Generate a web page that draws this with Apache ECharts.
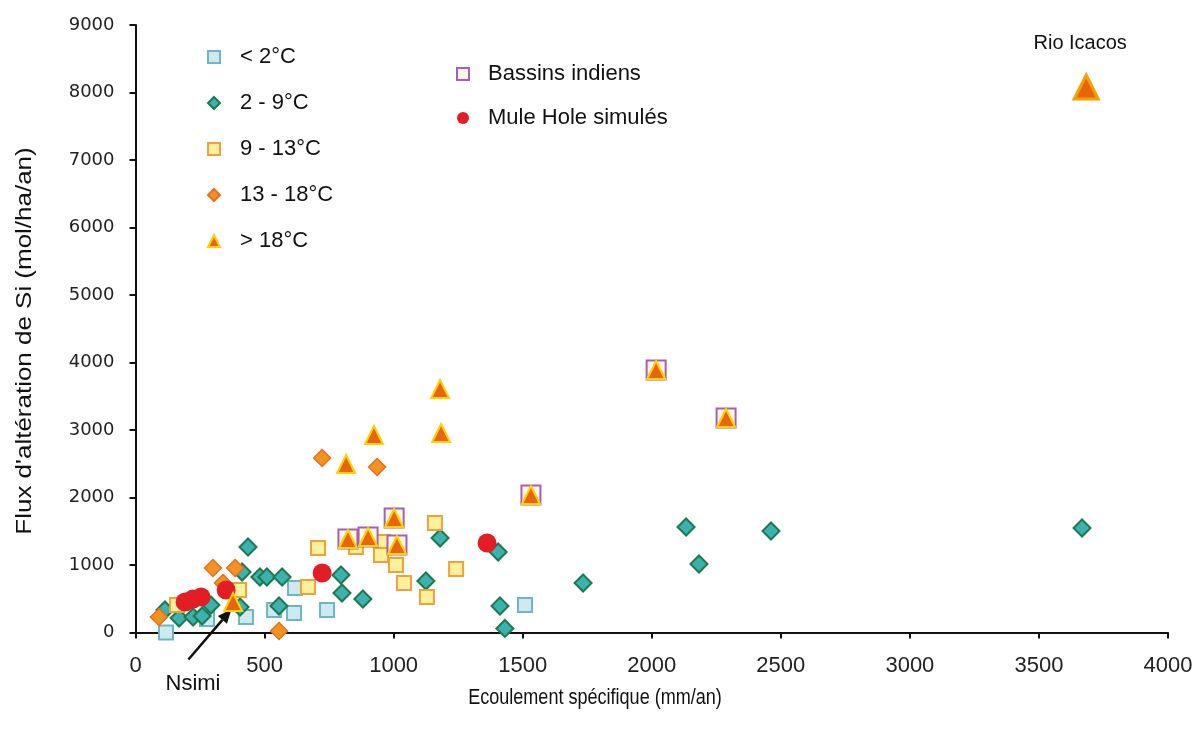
<!DOCTYPE html>
<html>
<head>
<meta charset="utf-8">
<script src="https://cdn.jsdelivr.net/npm/echarts@6/dist/echarts.min.js"></script>
<style>
html,body{margin:0;padding:0;background:#fff;}
#chart{width:1196px;height:738px;}
</style>
</head>
<body>
<div id="chart"></div>
<script>
// ---- Data (x: Ecoulement spécifique mm/an, y: Flux d'altération de Si mol/ha/an)
const lt2 = [[118,0],[277,200],[428,230],[537,333],[614,289],[618,659],[742,333],[1509,407]];
const t2to9 = [[114,333],[169,215],[223,230],[258,244],[292,407],[405,378],[413,896],[436,1267],[482,822],[509,822],[568,822],[556,393],[796,852],[800,585],[881,496],[1125,763],[1180,1400],[1405,1193],[1412,393],[1431,60],[1734,733],[2133,1563],[2183,1015],[2462,1504],[3667,1548]];
const t9to13 = [[161,407],[401,630],[668,674],[707,1252],[854,1267],[959,1341],[951,1148],[1009,1000],[1040,733],[1129,526],[1160,1622],[1242,941]];
const t13to18 = [[91,230],[300,956],[386,956],[339,733],[556,22],[723,2585],[936,2452]];
const gt18 = [[378,452],[816,2496],[924,2926],[1184,2956],[1180,3607],[823,1385],[901,1415],[1002,1696],[1013,1296],[1532,2037],[2017,3889],[2288,3178]];
const rioIcacos = [[3683,8081]];
const bassins = [[823,1385],[901,1415],[1002,1696],[1013,1296],[1532,2037],[2017,3889],[2288,3178]];
const muleHole = [[192,452],[223,496],[254,526],[351,630],[723,881],[1362,1326]];
const nsimiArrow = [[205,-400],[372,345]];

const names = {
  lt2: '< 2°C', t2to9: '2 - 9°C', t9to13: '9 - 13°C', t13to18: '13 - 18°C', gt18: '> 18°C',
  bassins: 'Bassins indiens', mule: 'Mule Hole simulés'
};
const xTitle = 'Ecoulement spécifique (mm/an)';
const yTitle = "Flux d'altération de Si (mol/ha/an)";

const chart = echarts.init(document.getElementById('chart'), null, {renderer: 'canvas'});
const FONT = 'Liberation Sans, Arial, sans-serif';

const option = {
  backgroundColor: '#ffffff',
  animation: false,
  grid: {left: 135.5, right: 28, top: 25, bottom: 105.5, containLabel: false},
  xAxis: {
    type: 'value', min: 0, max: 4000, interval: 500,
    axisLine: {show: true, onZero: false, lineStyle: {color: '#111', width: 2}},
    axisTick: {show: true, length: 6, lineStyle: {color: '#111', width: 2}},
    axisLabel: {fontFamily: FONT, fontSize: 22, color: '#222', margin: 22, formatter: v => String(v)},
    splitLine: {show: false}
  },
  yAxis: {
    type: 'value', min: 0, max: 9000, interval: 1000,
    axisLine: {show: true, onZero: false, lineStyle: {color: '#111', width: 2}},
    axisTick: {show: true, length: 6, lineStyle: {color: '#111', width: 2}},
    axisLabel: {fontFamily: 'DejaVu Sans, sans-serif', fontSize: 18, color: '#222', margin: 21, formatter: v => String(v)},
    splitLine: {show: false}
  },
  legend: [
    {
      orient: 'vertical', left: 207, top: 46, padding: 0, itemWidth: 12, itemHeight: 12, itemGap: 24,
      data: [names.lt2, names.t2to9, names.t9to13, names.t13to18, names.gt18],
      textStyle: {fontFamily: FONT, fontSize: 22, lineHeight: 22, color: '#111', padding: [0,0,0,15]},
      selectedMode: false
    },
    {
      orient: 'vertical', left: 456, top: 63, padding: 0, itemWidth: 12, itemHeight: 12, itemGap: 22,
      data: [names.bassins, names.mule],
      textStyle: {fontFamily: FONT, fontSize: 22, lineHeight: 22, color: '#111', padding: [0,0,0,14]},
      selectedMode: false
    }
  ],
  series: [
    {name: names.lt2, type: 'scatter', data: lt2, symbol: 'rect', symbolSize: 14,
     itemStyle: {color: '#cfe9f0', borderColor: '#6db7c2', borderWidth: 2, opacity: 1}},
    {name: names.t2to9, type: 'scatter', data: t2to9, symbol: 'diamond', symbolSize: 17,
     itemStyle: {color: '#3cb2b0', borderColor: '#1e7a4e', borderWidth: 2, opacity: 1}},
    {name: names.t9to13, type: 'scatter', data: t9to13, symbol: 'rect', symbolSize: 14,
     itemStyle: {color: '#fff09c', borderColor: '#f0a23a', borderWidth: 2, opacity: 1}},
    {name: names.t13to18, type: 'scatter', data: t13to18, symbol: 'diamond', symbolSize: 17,
     itemStyle: {color: '#f39220', borderColor: '#e5701e', borderWidth: 1.5, opacity: 1}},
    {name: names.mule, type: 'scatter', data: muleHole, symbol: 'circle', symbolSize: 19,
     itemStyle: {color: '#e31d25', opacity: 1}},
    {name: names.bassins, type: 'scatter', data: bassins, symbol: 'rect', symbolSize: 19,
     itemStyle: {color: '#fff6e8', borderColor: '#a85fae', borderWidth: 2, opacity: 1}},
    {name: names.gt18, type: 'scatter', symbol: 'triangle', symbolSize: 18,
     data: gt18.map(p => p).concat(rioIcacos.map(p => ({
       value: p, symbolSize: 24,
       itemStyle: {color: '#e8650e', borderColor: '#f5a000', borderWidth: 3}
     }))),
     itemStyle: {color: '#e8650e', borderColor: '#ffd200', borderWidth: 2, opacity: 1}}
  ]
};
chart.setOption(option);

// Annotations placed from data coordinates
const rioPx = chart.convertToPixel({gridIndex: 0}, rioIcacos[0]);
const tail = chart.convertToPixel({gridIndex: 0}, nsimiArrow[0]);
const tip = chart.convertToPixel({gridIndex: 0}, nsimiArrow[1]);
const dx = tip[0] - tail[0], dy = tip[1] - tail[1];
const len = Math.sqrt(dx * dx + dy * dy);
const ux = dx / len, uy = dy / len;
const headL = 14, headW = 6;
const base = [tip[0] - ux * headL, tip[1] - uy * headL];
const gridRect = chart.getModel().getComponent('grid').coordinateSystem.getRect();

chart.setOption({
  graphic: [
    {type: 'line', shape: {x1: tail[0], y1: tail[1], x2: base[0], y2: base[1]},
     style: {stroke: '#111', lineWidth: 2.5}, silent: true},
    {type: 'polygon', shape: {points: [tip, [base[0] - uy * headW, base[1] + ux * headW], [base[0] + uy * headW, base[1] - ux * headW]]},
     style: {fill: '#111'}, silent: true},
    {type: 'text', x: 193, y: 684,
     style: {text: 'Nsimi', font: '22px ' + FONT, fill: '#111', textAlign: 'center', textVerticalAlign: 'middle'}},
    {type: 'text', x: rioPx[0] - 6, y: rioPx[1] - 44,
     style: {text: 'Rio Icacos', font: '20px ' + FONT, fill: '#111', textAlign: 'center', textVerticalAlign: 'middle'}},
    {type: 'text', x: 595, y: gridRect.y + gridRect.height + 65, scaleX: 0.82,
     style: {text: xTitle, font: '22px ' + FONT, fill: '#111', textAlign: 'center', textVerticalAlign: 'middle'}},
    {type: 'text', x: 25, y: 341, rotation: Math.PI / 2, scaleX: 1.18,
     style: {text: yTitle, font: '22px ' + FONT, fill: '#111', textAlign: 'center', textVerticalAlign: 'middle'}}
  ]
});
</script>
</body>
</html>
